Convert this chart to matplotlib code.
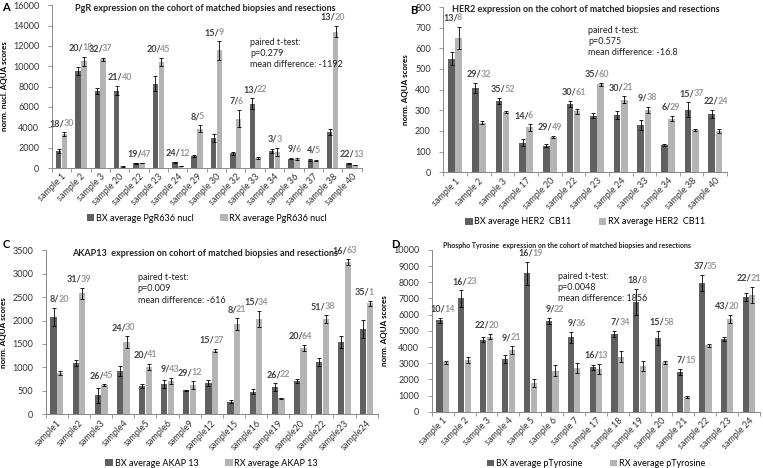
import numpy as np
import matplotlib
matplotlib.use('Agg')
import matplotlib.pyplot as plt

plt.rcParams['font.family'] = ['Lato', 'DejaVu Sans']

# ---- panel A: PgR
a_samples = ['sample 1', 'sample 2', 'sample 3', 'sample 20', 'sample 22', 'sample 23', 'sample 24', 'sample 29',
             'sample 30', 'sample 32', 'sample 33', 'sample 34', 'sample 36', 'sample 37', 'sample 38', 'sample 40']
a_bx = [1650, 9500, 7550, 7600, 450, 8300, 550, 1200, 2950, 1450, 6300, 1700, 900, 800, 3550, 450]
a_bx_err = [200, 400, 300, 450, 30, 750, 40, 100, 350, 150, 550, 200, 50, 100, 300, 50]
a_rx = [3300, 10500, 10700, 150, 480, 10400, 180, 3850, 11550, 4850, 1000, 1550, 900, 700, 13400, 300]
a_rx_err = [200, 450, 150, 20, 20, 400, 20, 350, 900, 850, 100, 400, 100, 50, 550, 30]
a_n_bx = [18, 20, 32, 21, 19, 20, 24, 8, 15, 7, 13, 3, 9, 4, 13, 22]
a_n_rx = ['30', '18', '37', '40', '47', '45', '12', '5', '9', '6', '22', '3', '6', '5', '20', '13']

# ---- panel B: HER2
b_samples = ['sample 1', 'sample 2', 'sample 3', 'sample 17', 'sample 20', 'sample 22', 'sample 23', 'sample 24',
             'sample 33', 'sample 34', 'sample 38', 'sample 40']
b_bx = [550, 408, 345, 143, 128, 330, 273, 277, 228, 132, 303, 282]
b_bx_err = [30, 25, 15, 18, 8, 15, 12, 18, 25, 4, 35, 20]
b_rx = [650, 240, 292, 217, 172, 295, 425, 352, 303, 260, 205, 198]
b_rx_err = [55, 8, 5, 15, 4, 12, 8, 15, 15, 12, 4, 10]
b_n_bx = [13, 29, 35, 14, 29, 30, 35, 30, 9, 6, 15, 22]
b_n_rx = ['8', '32', '52', '6', '49', '61', '60', '21', '38', '29', '37', '24']

# ---- panel C: AKAP13
c_samples = ['sample1', 'sample2', 'sample3', 'sample4', 'sample5', 'sample6', 'sample9', 'sample12', 'sample15',
             'sample16', 'sample19', 'sample20', 'sample22', 'sample23', 'sample24']
c_bx = [2080, 1100, 400, 930, 600, 640, 510, 660, 270, 480, 580, 710, 1120, 1540, 1820]
c_bx_err = [190, 60, 170, 110, 40, 80, 10, 60, 40, 50, 80, 50, 90, 130, 200]
c_rx = [880, 2580, 620, 1540, 1010, 710, 620, 1360, 1920, 2040, 340, 1420, 2030, 3250, 2370]
c_rx_err = [50, 120, 15, 120, 70, 60, 80, 30, 130, 170, 15, 60, 80, 60, 50]
c_n_bx = [8, 31, 26, 24, 20, 9, 29, 15, 8, 15, 26, 20, 51, 16, 35]
c_n_rx = ['20', '39', '45', '30', '41', '43', '12', '27', '21', '34', '22', '64', '38', '63', '1']

# ---- panel D: Phospho Tyrosine
d_samples = ['sample 1', 'sample 2', 'sample 3', 'sample 4', 'sample 5', 'sample 6', 'sample 7', 'sample 17',
             'sample 18', 'sample 19', 'sample 20', 'sample 21', 'sample 22', 'sample 23', 'sample 24']
d_bx = [5650, 7000, 4450, 3250, 8550, 5600, 4600, 2750, 4800, 6800, 4550, 2450, 7950, 4500, 7100]
d_bx_err = [150, 500, 150, 250, 700, 200, 350, 150, 200, 800, 450, 200, 500, 150, 250]
d_rx = [3050, 3200, 4650, 3800, 1800, 2550, 2700, 2650, 3400, 2850, 3050, 900, 4100, 5750, 7200]
d_rx_err = [100, 200, 150, 250, 250, 350, 300, 300, 350, 300, 100, 50, 100, 250, 500]
d_n_bx = [10, 16, 22, 9, 16, 9, 9, 16, 7, 18, 15, 7, 37, 43, 22]
d_n_rx = ['14', '23', '20', '21', '19', '22', '36', '13', '34', '8', '58', '15', '35', '20', '21']

BX_COL = '#606060'
RX_COL = '#b4b4b4'
FS = 6.5

fig = plt.figure(figsize=(7.63, 4.68), dpi=100)


def panel(rect, letter, letter_pos, title, title_pos, title_fs, samples, bx, bx_err, rx, rx_err, n_bx, n_rx,
          ymax, ystep, ylabel, stats, stats_pos, leg_names, leg_y):
    ax = fig.add_axes(rect)
    x = np.arange(len(samples))
    w = 0.28
    ax.bar(x - 0.15, bx, w, color=BX_COL, label=leg_names[0], zorder=2)
    ax.bar(x + 0.15, rx, w, color=RX_COL, label=leg_names[1], zorder=2)
    ek = dict(fmt='none', ecolor='black', elinewidth=0.6, capsize=1.6, capthick=0.6, zorder=3)
    ax.errorbar(x - 0.15, bx, yerr=bx_err, **ek)
    ax.errorbar(x + 0.15, rx, yerr=rx_err, **ek)
    for i in range(len(samples)):
        top = max(bx[i] + bx_err[i], rx[i] + rx_err[i])
        ax.annotate(f'{n_bx[i]}/', (x[i], top), xytext=(2, 3), textcoords='offset points',
                    ha='right', va='bottom', fontsize=FS, fontweight='bold', color='#404040')
        ax.annotate(n_rx[i], (x[i], top), xytext=(1.3, 3), textcoords='offset points',
                    ha='left', va='bottom', fontsize=FS, fontweight='bold', color='#9a9a9a')
    ax.set_xlim(-0.5, len(samples) - 0.5)
    ax.set_ylim(0, ymax)
    ax.set_yticks(np.arange(0, ymax + 1, ystep))
    ax.set_xticks(x)
    ax.set_xticklabels(samples, rotation=45, ha='right', rotation_mode='anchor', fontsize=FS, color='#333333')
    ax.set_xticks(np.arange(-0.5, len(samples)), minor=True)
    ax.tick_params(axis='x', which='major', length=0, pad=3)
    ax.tick_params(axis='x', which='minor', length=3, color='#888888', width=0.6)
    ax.tick_params(axis='y', labelsize=FS, length=3, color='#888888', width=0.6, labelcolor='#333333', pad=6)
    for s in ['top', 'right']:
        ax.spines[s].set_visible(False)
    for s in ['left', 'bottom']:
        ax.spines[s].set_color('#888888')
        ax.spines[s].set_linewidth(0.7)
    ax.text(title_pos[0], title_pos[1], title, transform=ax.transAxes, fontsize=title_fs, fontweight='bold',
            va='center', color='#222222')
    ax.text(stats_pos[0], stats_pos[1], stats, transform=ax.transAxes, fontsize=FS, va='top',
            linespacing=1.3, color='#222222')
    ax.set_ylabel(ylabel, fontsize=5.8, fontweight='bold', labelpad=4)
    fig.text(letter_pos[0], letter_pos[1], letter, fontsize=8, fontweight='bold', va='top')
    ax.legend(loc='center', bbox_to_anchor=(0.5, leg_y), ncol=2, frameon=False, fontsize=FS,
              handlelength=0.8, handleheight=0.8, columnspacing=3, handletextpad=0.2)
    return ax


panel([0.068, 0.641, 0.406, 0.348], 'A', (0.003, 0.995),
      'PgR expression on the cohort of matched biopsies and resections', (0.074, 0.982), FS,
      a_samples, a_bx, a_bx_err, a_rx, a_rx_err, a_n_bx, a_n_rx, 16000, 2000, 'norm. nucl. AQUA scores',
      'paired t-test:\np=0.279\nmean difference: -1192', (0.64, 0.80),
      ['BX average PgR636 nucl', 'RX average PgR636 nucl'], -0.31)

panel([0.581, 0.632, 0.372, 0.353], 'B', (0.538, 0.99),
      'HER2 expression on the cohort of matched biopsies and resections', (0.03, 0.982), FS,
      b_samples, b_bx, b_bx_err, b_rx, b_rx_err, b_n_bx, b_n_rx, 800, 100, 'norm. AQUA scores',
      'paired t-test:\np=0.575\nmean difference: -16.8', (0.51, 0.885),
      ['BX average HER2  CB11', 'RX average HER2  CB11'], -0.30)

panel([0.060, 0.115, 0.435, 0.350], 'C', (0.003, 0.49),
      'AKAP13  expression on cohort of matched biopsies and resections', (0.08, 0.982), FS,
      c_samples, c_bx, c_bx_err, c_rx, c_rx_err, c_n_bx, c_n_rx, 3500, 500, 'norm. AQUA scores',
      'paired t-test:\np=0.009\nmean difference: -616', (0.277, 0.86),
      ['BX average AKAP 13', 'RX average AKAP 13'], -0.30)

panel([0.566, 0.120, 0.430, 0.346], 'D', (0.513, 0.49),
      'Phospho Tyrosine  expression on the cohort of matched biopsies and resections', (0.035, 1.025), 5.0,
      d_samples, d_bx, d_bx_err, d_rx, d_rx_err, d_n_bx, d_n_rx, 10000, 1000, 'norm. AQUA scores',
      'paired t-test:\np=0.0048\nmean difference: 1856', (0.384, 0.865),
      ['BX average pTyrosine', 'RX average pTyrosine'], -0.32)

fig.savefig('out.png', dpi=100)
